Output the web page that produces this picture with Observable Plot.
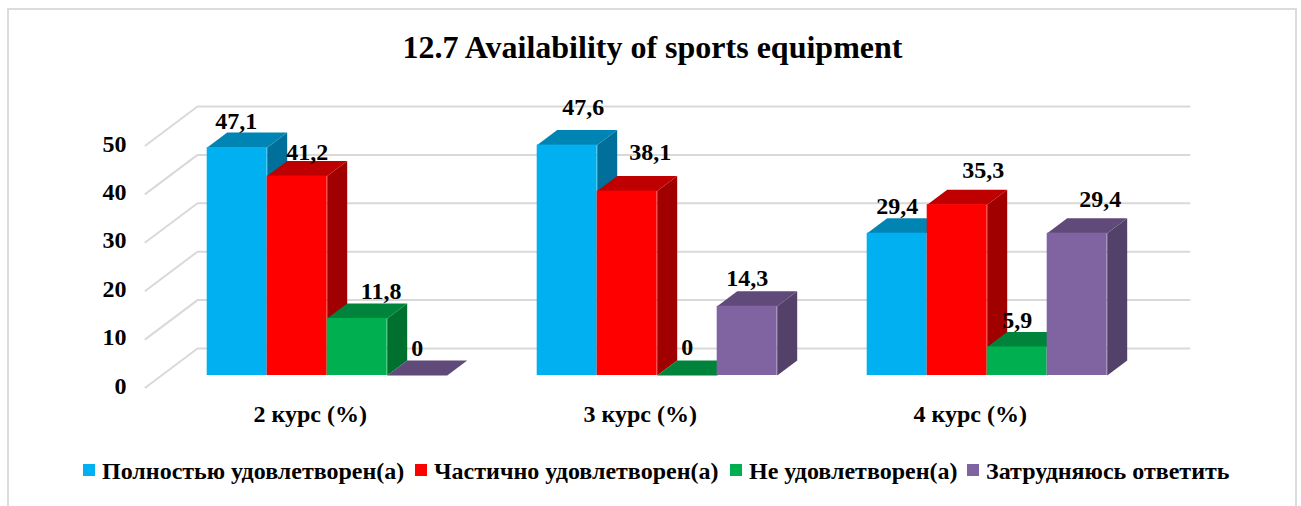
<!DOCTYPE html>
<html><head><meta charset="utf-8">
<script src="https://cdn.jsdelivr.net/npm/d3@7"></script>
<script src="https://cdn.jsdelivr.net/npm/@observablehq/plot@0.6"></script>
<style>
html,body{margin:0;padding:0;background:#fff;overflow:hidden;width:1301px;height:506px}
body{font-family:"Liberation Serif",serif;font-weight:bold;color:#000;position:relative}
#frame{position:absolute;left:7px;top:8px;width:1286px;height:520px;border:2px solid #dcdcdc;box-sizing:content-box}
#title{position:absolute;left:0;top:28px;width:1305px;text-align:center;font-size:32px;line-height:38px}
#chart{position:absolute;left:0;top:85px}
#legend{position:absolute;left:0;top:458px;height:26px;font-size:24px;line-height:26px;width:1301px}
#legend span.k{position:absolute;top:0;white-space:nowrap}
#legend i{display:inline-block;width:12px;height:12px;margin-right:7px;vertical-align:3px}
svg text{font-family:"Liberation Serif",serif;font-weight:bold}
</style></head><body>
<div id="frame"></div>
<div id="title">12.7 Availability of sports equipment</div>
<div id="chart"></div>
<div id="legend"></div>
<script>
// Data
const categories = ["2 курс (%)", "3 курс (%)", "4 курс (%)"];
const seriesNames = ["Полностью удовлетворен(а)", "Частично удовлетворен(а)", "Не удовлетворен(а)", "Затрудняюсь ответить"];
const full = [47.1, 47.6, 29.4];
const partial = [41.2, 38.1, 35.3];
const notSatisfied = [11.8, 0, 5.9];
const hard = [0, 14.3, 29.4];
const yTicks = [0, 10, 20, 30, 40, 50];

// Styles
const frontColors = ["#00B0F0", "#FF0000", "#00B050", "#8064A2"];
const topColors = ["#0084B4", "#BF0000", "#00843C", "#604A7A"];
const sideColors = ["#00709A", "#A00000", "#00702F", "#534169"];
const legendLeft = [83, 415, 730, 967];

// Nudges of value labels in pixels, per series then per course
const nudge = [
  [[-1, -11], [16, -23], [0, -12]],
  [[10, -9], [23, -24], [26, -19]],
  [[24, -12], [0, -13], [0, -12]],
  [[0, -12], [0, -13], [23, -19]]
];

// Layout: a slot is one bar wide, a course takes 5.5 slots
const slotPx = 60, unitPx = 4.84, groupSlots = 5.5;
const depthBar = 20, depthFront = -16, depthWall = 36, slant = 0.75;
const W = 1301, H = 360, mL = 145, mR = 112, mT = 20, mB = 58;
const xOrigin = 206.7;
const xDomain = [(mL - xOrigin) / slotPx, (W - mR - xOrigin) / slotPx];
const yDomain = [-(12) / unitPx, 270 / unitPx];
const slotL = (161 - xOrigin) / slotPx, slotR = (W - mR - depthWall - xOrigin) / slotPx;
const px = (slot, depth) => slot + depth / slotPx;
const py = (val, depth) => val + slant * depth / unitPx;

const values = [full, partial, notSatisfied, hard];
const bars = [];
values.forEach((vals, s) => vals.forEach((v, g) => bars.push({s, g, v, slot: g * groupSlots + s})));

// Side and top faces of each box
const faces = [];
bars.forEach(b => {
  const {slot, v, s, g} = b, id = `${s}-${g}`;
  [[slot + 1, v, 0], [slot + 1, v, depthBar], [slot + 1, 0, depthBar], [slot + 1, 0, 0]]
    .forEach(([a, c, d]) => faces.push({id: id + "side", fill: sideColors[s], x: px(a, d), y: py(c, d)}));
  [[slot, v, 0], [slot, v, depthBar], [slot + 1, v, depthBar], [slot + 1, v, 0]]
    .forEach(([a, c, d]) => faces.push({id: id + "top", fill: topColors[s], x: px(a, d), y: py(c, d)}));
});

// Gridlines along the side wall and back wall
const grid = yTicks.flatMap(t => [
  {t, x: px(slotL, depthFront), y: py(t, depthFront)},
  {t, x: px(slotL, depthWall), y: py(t, depthWall)},
  {t, x: px(slotR, depthWall), y: py(t, depthWall)}
]);

const labels = bars.map(b => ({
  text: String(b.v).replace(".", ","),
  x: b.slot + 0.5 + nudge[b.s][b.g][0] / slotPx,
  y: py(b.v, depthBar) - nudge[b.s][b.g][1] / unitPx
}));

const chart = Plot.plot({
  width: W, height: H,
  marginLeft: mL, marginRight: mR, marginTop: mT, marginBottom: mB,
  x: {domain: xDomain, axis: null},
  y: {domain: yDomain, axis: null},
  color: {type: "identity"},
  style: {background: "transparent", overflow: "visible"},
  marks: [
    Plot.line(grid, {x: "x", y: "y", z: "t", stroke: "#d9d9d9", strokeWidth: 2, curve: "linear"}),
    Plot.line(faces, {x: "x", y: "y", z: "id", fill: "fill", stroke: "none", curve: "linear"}),
    Plot.rect(bars, {
      x1: d => d.slot, x2: d => d.slot + 1, y1: 0, y2: "v",
      fill: d => frontColors[d.s], inset: 0
    }),
    Plot.axisY({
      ticks: yTicks, tickSize: 0, tickPadding: 0, anchor: "left", label: null,
      fontSize: 24, fontWeight: "bold", fill: "#000", dx: -19, dy: 10.5
    }),
    Plot.text(labels, {x: "x", y: "y", text: "text", fontSize: 24, fontWeight: "bold", fill: "#000"}),
    Plot.text(categories, {
      x: (d, i) => i * groupSlots + 2, text: d => d, frameAnchor: "bottom",
      dx: -17, dy: 34, fontSize: 24, fontWeight: "bold", fill: "#000", textAnchor: "middle"
    })
  ]
});
document.getElementById("chart").append(chart);

const legend = document.getElementById("legend");
seriesNames.forEach((name, i) => {
  const k = document.createElement("span");
  k.className = "k";
  k.style.left = legendLeft[i] + "px";
  k.innerHTML = `<i style="background:${frontColors[i]}"></i>${name}`;
  legend.append(k);
});
</script>
</body></html>
